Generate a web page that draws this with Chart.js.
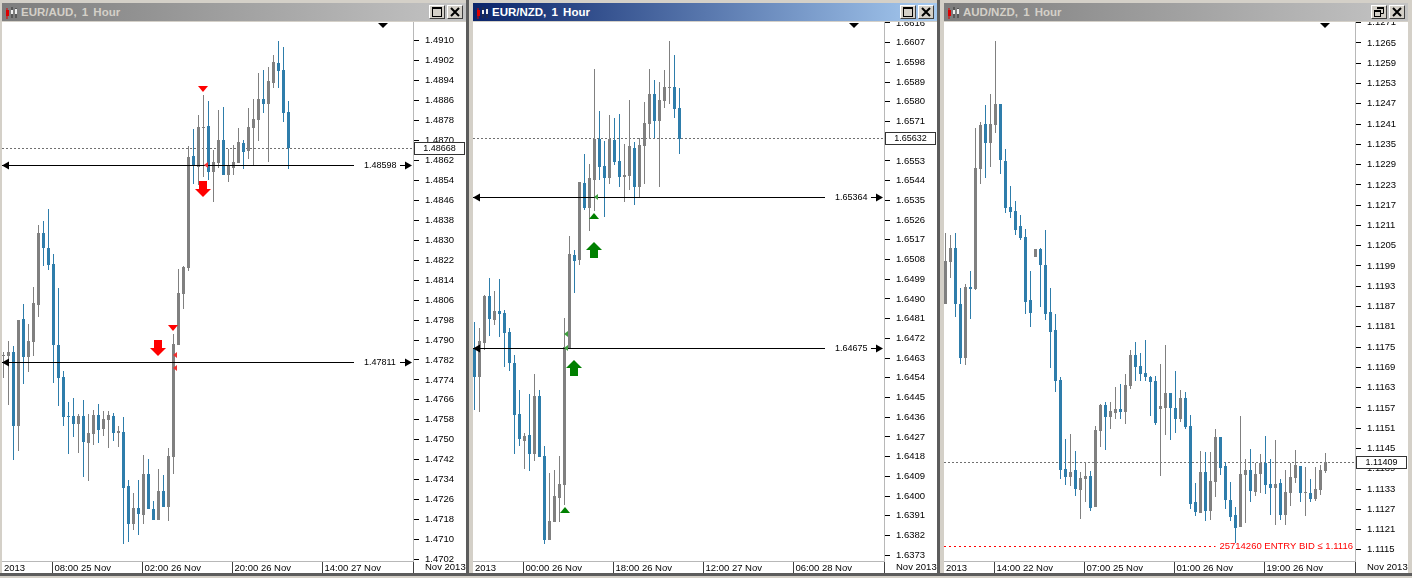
<!DOCTYPE html>
<html>
<head>
<meta charset="utf-8">
<title>EUR/AUD, EUR/NZD, AUD/NZD 1 Hour</title>
<script src="https://cdn.jsdelivr.net/npm/chart.js@4/dist/chart.umd.js"></script>
<style>
html, body { margin: 0; padding: 0; width: 1412px; height: 578px; overflow: hidden; background: #d4d0c8; }
.win { position: absolute; top: 0; width: 471px; height: 578px; }
.bar { position: absolute; left: 2px; top: 3px; width: 464px; height: 18px; font: bold 11.5px "Liberation Sans", sans-serif; line-height: 18px; word-spacing: 2px; }
.bar span { position: absolute; left: 19px; top: 0; white-space: nowrap; }
.bar svg.icon { position: absolute; left: 3px; top: 4px; }
.btn { position: absolute; top: 2px; width: 14px; height: 12px; background: #d4d0c8; border: 1px solid; border-color: #fff #404040 #404040 #fff; }
.btn svg { position: absolute; left: 1px; top: 0; }
canvas.chart { position: absolute; left: 2px; top: 22px; background: #fff; }
.edge { position: absolute; background: #5c5c5c; }
</style>
</head>
<body>
<script>
// EUR/AUD candles
const eaOpen = [1.47834,1.47836,1.47852,1.47557,1.47985,1.4783,1.47894,1.48042,1.4833,1.4827,
  1.48205,1.47881,1.47752,1.47596,1.47596,1.47564,1.47596,1.47487,1.47524,1.476,
  1.47544,1.4758,1.47596,1.47528,1.47532,1.47315,1.47163,1.47227,1.47199,1.47363,
  1.47223,1.47179,1.47295,1.47231,1.47431,1.47881,1.48085,1.48189,1.48638,1.48594,
  1.4875,1.48758,1.48574,1.4861,1.48702,1.48562,1.4859,1.4861,1.4869,1.48658,
  1.4875,1.48783,1.48867,1.48847,1.48931,1.49011,1.48983,1.48815];
const eaHigh = [1.47852,1.47895,1.47877,1.47981,1.48045,1.47965,1.48114,1.48362,1.48378,1.48426,
  1.48246,1.48108,1.47775,1.47652,1.47668,1.47604,1.4766,1.47604,1.4762,1.47644,
  1.47616,1.47616,1.47608,1.47556,1.47592,1.47339,1.47287,1.47339,1.47439,1.47423,
  1.47255,1.47383,1.47359,1.47467,1.47925,1.48185,1.48197,1.48678,1.48746,1.48803,
  1.48883,1.48859,1.48662,1.48823,1.48835,1.48666,1.48682,1.4875,1.48702,1.48831,
  1.48867,1.48971,1.48983,1.48995,1.49043,1.49099,1.49075,1.48859];
const eaLow = [1.47748,1.47641,1.47417,1.47454,1.47724,1.4777,1.47836,1.47994,1.48195,1.48179,
  1.47728,1.47637,1.47557,1.47441,1.47512,1.47445,1.47352,1.47336,1.47479,1.47487,
  1.47514,1.47467,1.47495,1.47471,1.47082,1.4709,1.47138,1.47118,1.47163,1.47223,
  1.47179,1.47179,1.47231,1.47175,1.47363,1.47881,1.48025,1.48178,1.48526,1.48522,
  1.48554,1.48542,1.48454,1.4859,1.48562,1.48534,1.48562,1.4861,1.48586,1.48626,
  1.48602,1.48698,1.48811,1.48614,1.48911,1.48911,1.48774,1.48586];
const eaClose = [1.47839,1.47852,1.47557,1.47981,1.47832,1.47897,1.48049,1.4833,1.48267,1.48201,
  1.47878,1.47749,1.47593,1.47593,1.47564,1.47596,1.47491,1.47528,1.476,1.4754,
  1.47584,1.476,1.47528,1.47536,1.47307,1.47163,1.47227,1.47203,1.47363,1.47223,
  1.47179,1.47295,1.47231,1.47435,1.47885,1.48089,1.48193,1.48634,1.48598,1.48754,
  1.48754,1.48574,1.48614,1.48702,1.48562,1.48598,1.48614,1.48694,1.48654,1.48754,
  1.48787,1.48867,1.48847,1.48939,1.49015,1.48979,1.48811,1.48668];
const eaTicks = [1.4910,1.4902,1.4894,1.4886,1.4878,1.4870,1.4862,1.4854,1.4846,1.4838,1.4830,1.4822,1.4814,
  1.4806,1.4798,1.4790,1.4782,1.4774,1.4766,1.4758,1.4750,1.4742,1.4734,1.4726,1.4718,1.4710,1.4702];
const eaTimes = ["2013","08:00 25 Nov","02:00 26 Nov","20:00 26 Nov","14:00 27 Nov",""];
const eaLevels = [1.48598,1.47811];
const eaMarkX = [40,39.9,40.5,34,30.9,34.4,34.4];
const eaMarkY = [1.48905,1.48506,1.48602,1.47949,1.47868,1.47839,1.47787];
const eaMarkKind = ["triDown","arrowDown","sideRed","triDown","arrowDown","sideRed","sideRed"];

// EUR/NZD candles
const enOpen = [1.64677,1.64544,1.64699,1.64914,1.64804,1.64845,1.64836,1.6475,1.64608,1.64375,
  1.64252,1.6428,1.64193,1.64457,1.64184,1.638,1.63883,1.63992,1.64051,1.64675,
  1.65101,1.65078,1.65429,1.65315,1.65443,1.6563,1.65507,1.65452,1.65626,1.6553,
  1.65457,1.65461,1.65589,1.65411,1.65598,1.65699,1.65836,1.65712,1.65804,1.65863,
  1.65867,1.65772];
const enHigh = [1.64795,1.64768,1.6492,1.64994,1.64937,1.6499,1.6485,1.64768,1.64645,1.64485,
  1.64289,1.64467,1.64558,1.64485,1.64229,1.64106,1.6412,1.64184,1.64813,1.65188,
  1.65124,1.65434,1.65562,1.65516,1.6595,1.65758,1.65621,1.6574,1.65726,1.65744,
  1.65607,1.65808,1.65616,1.65635,1.65799,1.6595,1.65899,1.6589,1.65945,1.66077,
  1.66013,1.65863];
const enLow = [1.64394,1.64385,1.64667,1.64731,1.64781,1.64727,1.6459,1.64572,1.64193,1.64229,
  1.64124,1.64115,1.64161,1.64179,1.63782,1.638,1.63883,1.63883,1.6396,1.64675,
  1.64926,1.65055,1.65306,1.6521,1.65302,1.65443,1.65274,1.65425,1.65512,1.65411,
  1.65343,1.65397,1.65329,1.65365,1.65425,1.6563,1.65635,1.65411,1.65772,1.6579,
  1.65726,1.65562];
const enClose = [1.64544,1.64708,1.64914,1.64809,1.64845,1.64832,1.64745,1.64608,1.64371,1.64261,
  1.64275,1.64193,1.64457,1.64179,1.638,1.63887,1.64001,1.64056,1.64681,1.65105,
  1.65074,1.65434,1.65315,1.65452,1.6563,1.65502,1.65452,1.6563,1.65525,1.65457,
  1.65466,1.65598,1.65411,1.65603,1.65703,1.65836,1.65712,1.65808,1.65867,1.65867,
  1.65767,1.6563];
const enTicks = [1.6616,1.6607,1.6598,1.6589,1.6580,1.6571,1.6562,1.6553,1.6544,1.6535,1.6526,1.6517,1.6508,1.6499,
  1.6490,1.6481,1.6472,1.6463,1.6454,1.6445,1.6436,1.6427,1.6418,1.6409,1.6400,1.6391,1.6382,1.6373];
const enTimes = ["2013","00:00 26 Nov","18:00 26 Nov","12:00 27 Nov","06:00 28 Nov",""];
const enLevels = [1.65364,1.64675];
const enMarkX = [24,24,24.3,18,19.9,18.3,18.3];
const enMarkY = [1.65279,1.65124,1.65365,1.63939,1.64585,1.64739,1.64676];
const enMarkKind = ["triUp","arrowUp","sideGreen","triUp","arrowUp","sideGreen","sideGreen"];

// AUD/NZD candles
const anOpen = [1.11877,1.12002,1.12043,1.11877,1.11718,1.11928,1.11922,1.12277,1.1241,1.12354,
  1.12407,1.12469,1.123,1.12164,1.12152,1.12108,1.12076,1.11889,1.12016,1.1204,
  1.11993,1.11854,1.118,1.11653,1.11389,1.11366,1.11386,1.11327,1.1136,1.11369,
  1.11277,1.11502,1.11579,1.11543,1.11555,1.11567,1.11558,1.11635,1.11726,1.11694,
  1.11673,1.11661,1.1165,1.11567,1.1157,1.11614,1.1157,1.11537,1.11599,1.11516,
  1.11292,1.11259,1.1138,1.11265,1.11351,1.11484,1.11398,1.11298,1.11253,1.11218,
  1.11372,1.11386,1.11321,1.11374,1.11407,1.11345,1.11333,1.11348,1.11253,1.11318,
  1.11363,1.11398,1.11318,1.11318,1.11301,1.11327,1.11383];
const anHigh = [1.12087,1.12081,1.12087,1.11925,1.11937,1.11975,1.12398,1.12416,1.12466,1.12499,
  1.12655,1.12469,1.12336,1.12226,1.12182,1.12141,1.12099,1.11975,1.1204,1.12043,
  1.12096,1.11925,1.11848,1.11661,1.11478,1.11493,1.11443,1.1138,1.1141,1.11383,
  1.11516,1.11582,1.11587,1.11587,1.11632,1.11641,1.1167,1.11741,1.11765,1.11732,
  1.11771,1.11664,1.11664,1.117,1.11756,1.11614,1.11678,1.11623,1.11617,1.11549,
  1.11348,1.11443,1.1144,1.1144,1.11508,1.11484,1.1141,1.11351,1.11277,1.11546,
  1.11419,1.11448,1.11407,1.11434,1.11487,1.11419,1.11475,1.1136,1.11386,1.11407,
  1.11445,1.11398,1.11395,1.1136,1.11395,1.11401,1.11437];
const anLow = [1.11877,1.11954,1.11839,1.117,1.11697,1.11833,1.11919,1.12232,1.1225,1.12283,
  1.12383,1.12262,1.12147,1.12132,1.12081,1.12067,1.11848,1.11809,1.12016,1.11868,
  1.1183,1.11688,1.11617,1.1136,1.11342,1.11339,1.11309,1.11241,1.11292,1.11265,
  1.11277,1.11454,1.11445,1.11508,1.11537,1.11537,1.11522,1.11626,1.1165,1.1165,
  1.1165,1.11546,1.11519,1.11369,1.1149,1.11475,1.11496,1.11528,1.11508,1.11271,
  1.1125,1.11259,1.11235,1.11238,1.11306,1.11372,1.11271,1.11235,1.1117,1.11218,
  1.1123,1.11292,1.11309,1.11318,1.11315,1.11253,1.11224,1.11238,1.11224,1.1128,
  1.11348,1.11292,1.1125,1.11292,1.11295,1.11312,1.11377];
const anClose = [1.12005,1.12043,1.11877,1.11718,1.11928,1.11922,1.1228,1.12407,1.12354,1.1241,
  1.12469,1.12303,1.12161,1.12149,1.12096,1.12073,1.11883,1.11851,1.1204,1.11993,
  1.11848,1.11795,1.1165,1.11386,1.11366,1.1138,1.1133,1.11363,1.11369,1.11274,
  1.11505,1.11579,1.11543,1.11561,1.11567,1.11558,1.11638,1.11726,1.11691,1.1167,
  1.11661,1.11647,1.11525,1.11576,1.11614,1.1157,1.11537,1.11599,1.11514,1.11286,
  1.11262,1.1138,1.11265,1.11354,1.11484,1.11392,1.11298,1.11247,1.11215,1.11374,
  1.11386,1.11324,1.11374,1.11407,1.11342,1.11333,1.11345,1.11253,1.11321,1.11366,
  1.11401,1.11318,1.11321,1.11301,1.1133,1.11386,1.1141];
const anTicks = [1.1271,1.1265,1.1259,1.1253,1.1247,1.1241,1.1235,1.1229,1.1223,1.1217,1.1211,1.1205,1.1199,1.1193,
  1.1187,1.1181,1.1175,1.1169,1.1163,1.1157,1.1151,1.1145,1.1139,1.1133,1.1127,1.1121,1.1115];
const anTimes = ["2013","14:00 22 Nov","07:00 25 Nov","01:00 26 Nov","19:00 26 Nov",""];
const anEntry = 1.1116;

const UP = "#808080", DOWN = "#2e7dab";
const X_MIN = -0.3, X_MAX = 81.9;
const TIME_POS = [X_MIN, 9.8, 27.8, 45.8, 63.8, X_MAX];
const FONT = '"Liberation Sans", sans-serif';

// small canvases used as point styles for the signal marks
function icon(w, h, color, path) {
    const c = document.createElement("canvas");
    c.width = w;
    c.height = h;
    const g = c.getContext("2d");
    g.fillStyle = color;
    g.beginPath();
    path.forEach((p, i) => i ? g.lineTo(p[0], p[1]) : g.moveTo(p[0], p[1]));
    g.closePath();
    g.fill();
    return c;
}
const ICONS = {
    arrowDown: icon(16, 16, "#ff0000", [[4,0],[12,0],[12,8],[16,8],[8,16],[0,8],[4,8]]),
    arrowUp: icon(16, 16, "#008000", [[8,0],[16,8],[12,8],[12,16],[4,16],[4,8],[0,8]]),
    triDown: icon(10, 6, "#ff0000", [[0,0],[10,0],[5,6]]),
    triUp: icon(10, 6, "#008000", [[5,0],[10,6],[0,6]]),
    sideRed: icon(4, 6, "#f03030", [[4,0],[4,6],[0,3]]),
    sideGreen: icon(4, 6, "#3f9f3f", [[4,0],[4,6],[0,3]])
};

// pixel-snap the marks so that they stay crisp like the original
const snapPlugin = {
    id: "snap",
    afterDatasetsUpdate(chart) {
        chart.getSortedVisibleDatasetMetas().forEach(meta => {
            meta.data.forEach(el => {
                if (meta.type === "bar") {
                    el.x = Math.floor(el.x) + 0.5;
                    el.y = Math.round(el.y);
                    el.base = Math.round(el.base);
                    if (el.y === el.base) el.base = el.y + 1;
                } else if (meta.type === "line") {
                    el.y = Math.floor(el.y) + 0.5;
                } else {
                    el.x = Math.round(el.x);
                    el.y = Math.round(el.y);
                }
            });
        });
    }
};

function triangle(ctx, a, b, c) {
    ctx.beginPath();
    ctx.moveTo(a[0], a[1]);
    ctx.lineTo(b[0], b[1]);
    ctx.lineTo(c[0], c[1]);
    ctx.closePath();
    ctx.fill();
}

function overlay(p) {
    return {
        id: "overlay",
        afterDraw(chart) {
            const ctx = chart.ctx, x = chart.scales.x, y = chart.scales.y;
            const right = chart.chartArea.right;
            ctx.save();
            ctx.font = "9px " + FONT;
            ctx.textBaseline = "middle";
            // shift marker on top of the plot
            ctx.fillStyle = "#000";
            const sx = Math.round(x.getPixelForValue(75.9));
            triangle(ctx, [sx - 5, 1], [sx + 5, 1], [sx, 6]);
            // level lines: arrows on both ends and the price label
            p.levels.forEach(v => {
                const ly = Math.floor(y.getPixelForValue(v)) + 0.5;
                ctx.fillStyle = "#000";
                triangle(ctx, [0, ly], [7, ly - 4], [7, ly + 4]);
                triangle(ctx, [right - 1, ly], [right - 8, ly - 4], [right - 8, ly + 4]);
                ctx.fillRect(right - 13, ly - 0.5, 5, 1);
                ctx.textAlign = "left";
                ctx.fillText(v.toFixed(5), right - 49, ly);
            });
            // pending order label
            if (p.entry) {
                ctx.font = "9.5px " + FONT;
                ctx.fillStyle = "#ff0000";
                ctx.textAlign = "right";
                ctx.fillText("25714260 ENTRY BID \u2264 " + p.entry.toFixed(4), right - 2, Math.round(y.getPixelForValue(p.entry)));
                ctx.font = "9px " + FONT;
            }
            // last price box on the axis
            const by = Math.floor(y.getPixelForValue(p.last));
            ctx.fillStyle = "#fff";
            ctx.strokeStyle = "#333";
            ctx.fillRect(right + 1.5, by - 5.5, 50, 12);
            ctx.strokeRect(right + 1.5, by - 5.5, 50, 12);
            ctx.fillStyle = "#000";
            ctx.textAlign = "center";
            ctx.fillText(p.last.toFixed(5), right + 26.5, by + 1);
            // month label under the price axis
            ctx.textAlign = "left";
            ctx.font = "9.5px " + FONT;
            ctx.textBaseline = "top";
            ctx.fillText("Nov 2013", right + 12, chart.chartArea.bottom + 2);
            ctx.restore();
        }
    };
}

function hline(v, to, color, dash, order) {
    return {
        type: "line",
        data: [{ x: X_MIN, y: v }, { x: to, y: v }],
        borderColor: color,
        borderWidth: 1,
        borderDash: dash,
        pointRadius: 0,
        order: order
    };
}

function panel(p) {
    const win = document.createElement("div");
    win.className = "win";
    win.style.left = p.left + "px";
    const restore = '<svg width="12" height="12"><path d="M4 1h7v2H4z"/><path d="M4.5 3v-1M10.5 3v4.5H8" fill="none" stroke="#000"/><path d="M1 4h7v2H1z"/><rect x="1.5" y="5.5" width="6" height="5" fill="none" stroke="#000"/></svg>';
    const maxim = '<svg width="12" height="12"><rect x="1.5" y="1.5" width="9" height="9" fill="none" stroke="#000"/><path d="M1 1h10v2H1z"/></svg>';
    const close = '<svg width="12" height="12"><path d="M2 2l8 8M10 2l-8 8" stroke="#000" stroke-width="2"/></svg>';
    win.innerHTML =
        '<div class="bar" style="background:linear-gradient(90deg,' + p.grad + ');color:' + p.titleColor + '">' +
        '<svg class="icon" width="14" height="12"><path d="M2 1v11" stroke="#d00" stroke-width="1"/><rect x="1" y="3" width="3" height="6" fill="#d00"/><path d="M7 0v11M11 1v10" stroke="#333"/><rect x="6" y="3" width="2" height="4" fill="#eee"/><rect x="10" y="2" width="2" height="5" fill="#eee"/></svg>' +
        '<span>' + p.title + '</span>' +
        '<div class="btn" style="left:427px">' + (p.restore ? restore : maxim) + '</div>' +
        '<div class="btn" style="left:445px">' + close + '</div></div>' +
        '<canvas class="chart" width="464" height="551"></canvas>';
    document.body.appendChild(win);

    const bodies = p.open.map((o, i) => ({ x: i, y: [o, p.close[i]] }));
    const wicks = p.open.map((o, i) => ({ x: i, y: [p.low[i], p.high[i]] }));
    const colors = p.open.map((o, i) => p.close[i] >= o ? UP : DOWN);

    const datasets = [];
    if (p.markX) {
        datasets.push({
            type: "scatter",
            data: p.markX.map((v, i) => ({ x: v, y: p.markY[i] })),
            pointStyle: p.markKind.map(k => ICONS[k]),
            pointRadius: 6,
            order: 0
        });
    }
    p.levels.forEach(v => datasets.push(hline(v, 70.1, "#000", [], 1)));
    datasets.push({ data: bodies, backgroundColor: colors, barThickness: 3, grouped: false, inflateAmount: 0, borderWidth: 0, order: 2 });
    datasets.push({ data: wicks, backgroundColor: colors, barThickness: 1, grouped: false, inflateAmount: 0, borderWidth: 0, order: 3 });
    datasets.push(hline(p.last, X_MAX, "#707070", [2, 2], 4));
    if (p.entry) datasets.push(hline(p.entry, 54.0, "#ff0000", [2, 3], 4));

    new Chart(win.querySelector("canvas"), {
        type: "bar",
        data: { datasets: datasets },
        plugins: [snapPlugin, overlay(p)],
        options: {
            responsive: false,
            animation: false,
            devicePixelRatio: 1,
            events: [],
            layout: { autoPadding: false, padding: 0 },
            plugins: { legend: { display: false }, tooltip: { enabled: false } },
            scales: {
                x: {
                    type: "linear",
                    offset: false,
                    min: X_MIN,
                    max: X_MAX,
                    afterBuildTicks: s => { s.ticks = TIME_POS.map(v => ({ value: v })); },
                    afterFit: s => { s.height = 12; s.paddingLeft = 0; s.paddingRight = 0; },
                    border: { color: "#b8b8b8" },
                    grid: {
                        offset: false,
                        drawOnChartArea: false,
                        tickLength: 12,
                        tickColor: c => c.index === 0 ? "rgba(0,0,0,0)" : "#404040"
                    },
                    ticks: {
                        autoSkip: false,
                        maxRotation: 0,
                        minRotation: 0,
                        align: "start",
                        padding: -10,
                        labelOffset: 2,
                        color: "#000",
                        font: { family: FONT, size: 9.5 },
                        callback: (v, i) => p.times[i]
                    }
                },
                y: {
                    type: "linear",
                    position: "right",
                    min: p.yMin,
                    max: p.yMax,
                    afterBuildTicks: s => { s.ticks = p.ticks.map(v => ({ value: v })); },
                    afterFit: s => { s.width = 53; s.paddingTop = 0; s.paddingBottom = 0; },
                    border: { color: "#b8b8b8" },
                    grid: { drawOnChartArea: false, tickLength: 6, tickColor: "#000" },
                    ticks: {
                        autoSkip: false,
                        padding: 6,
                        color: "#000",
                        font: { family: FONT, size: 9.5 },
                        callback: v => v.toFixed(4)
                    }
                }
            }
        }
    });
}

const GREY = "#7d7d7d,#c4c4c4";
panel({ left: 0, title: "EUR/AUD, 1 Hour", grad: GREY, titleColor: "#d4d0c8",
    open: eaOpen, high: eaHigh, low: eaLow, close: eaClose, ticks: eaTicks, times: eaTimes,
    levels: eaLevels, last: 1.48668, yMin: 1.47014, yMax: 1.49175,
    markX: eaMarkX, markY: eaMarkY, markKind: eaMarkKind });
panel({ left: 471, title: "EUR/NZD, 1 Hour", grad: "#0a246a,#a6caf0", titleColor: "#fff",
    open: enOpen, high: enHigh, low: enLow, close: enClose, ticks: enTicks, times: enTimes,
    levels: enLevels, last: 1.65632, yMin: 1.63704, yMax: 1.66164,
    markX: enMarkX, markY: enMarkY, markKind: enMarkKind });
panel({ left: 942, title: "AUD/NZD, 1 Hour", grad: GREY, titleColor: "#d4d0c8", restore: true,
    open: anOpen, high: anHigh, low: anLow, close: anClose, ticks: anTicks, times: anTimes,
    levels: [], last: 1.11409, entry: anEntry, yMin: 1.11117, yMax: 1.12712 });

// dark window edges
[[466, 0, 3, 576], [937, 0, 3, 576], [0, 573, 1412, 3]].forEach(e => {
    const d = document.createElement("div");
    d.className = "edge";
    d.style.left = e[0] + "px";
    d.style.top = e[1] + "px";
    d.style.width = e[2] + "px";
    d.style.height = e[3] + "px";
    document.body.appendChild(d);
});
</script>
</body>
</html>
